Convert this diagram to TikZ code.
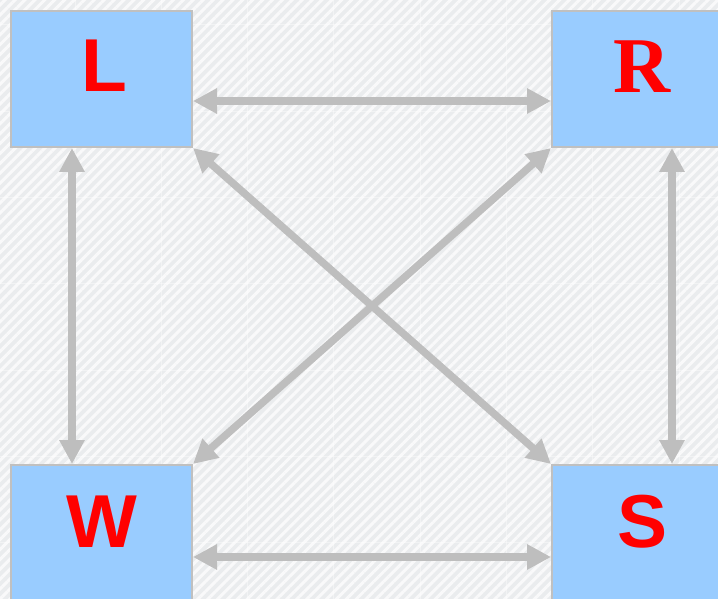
\documentclass[tikz,border=0pt]{standalone}
\usepackage{fontspec}
\setmainfont{Liberation Sans}
\newfontfamily\serifR{Liberation Serif}
\usetikzlibrary{arrows.meta,patterns.meta}
\definecolor{bgbase}{RGB}{234,236,238}
\definecolor{bgstripe}{RGB}{249,249,250}
\definecolor{boxblue}{RGB}{153,204,255}
\definecolor{boxedge}{RGB}{192,192,192}
\definecolor{arrgray}{RGB}{190,190,190}
\tikzset{
  stbox/.style={draw=boxedge, line width=2pt, fill=boxblue, minimum width=181pt, minimum height=136pt, inner sep=0pt},
  lettr/.style={text=red, font=\fontsize{75}{75}\selectfont\bfseries, inner sep=0pt},
  lettrR/.style={text=red, font=\fontsize{79}{79}\selectfont\serifR\bfseries, inner sep=0pt},
  arr/.style={draw=arrgray, line width=7.5pt, {Triangle[length=24pt,width=24pt]}-{Triangle[length=24pt,width=24pt]}},
  tileline/.style={draw=white, opacity=0.4, line width=1pt}
}
\begin{document}
\begin{tikzpicture}[x=1pt,y=-1pt]
\useasboundingbox (0,0) rectangle (718,599);
\fill[bgbase] (0,0) rectangle (718,599);
\fill[pattern={Lines[angle=45,distance=7pt,line width=3pt]}, pattern color=bgstripe] (0,0) rectangle (718,599);
\foreach \x in {75,161.3,247.6,333.9,420.2,506.5,592.8,679.1} \draw[tileline] (\x,0) -- (\x,599);
\foreach \y in {25,111.3,197.6,283.9,370.2,456.5,542.8} \draw[tileline] (0,\y) -- (718,\y);

\node[stbox] (L) at (101.5,79) {};
\node[stbox] (R) at (642.5,79) {};
\node[stbox] (W) at (101.5,533) {};
\node[stbox] (S) at (642.5,533) {};
\node[lettr] (Lt) at (104,66) {L};
\node[lettrR] (Rt) at (642.5,67) {R};
\node[lettr] (Wt) at (102,521.5) {W};
\node[lettr] (St) at (642.5,521.5) {S};

\draw[arr] (L.east |- 0,101) -- (R.west |- 0,101);
\draw[arr] (W.east |- 0,557) -- (S.west |- 0,557);
\draw[arr] (L.south -| 72,0) -- (W.north -| 72,0);
\draw[arr] (R.south -| 672,0) -- (S.north -| 672,0);
\draw[arr] (L.south east) -- (S.north west);
\draw[arr] (R.south west) -- (W.north east);
\end{tikzpicture}
\end{document}
